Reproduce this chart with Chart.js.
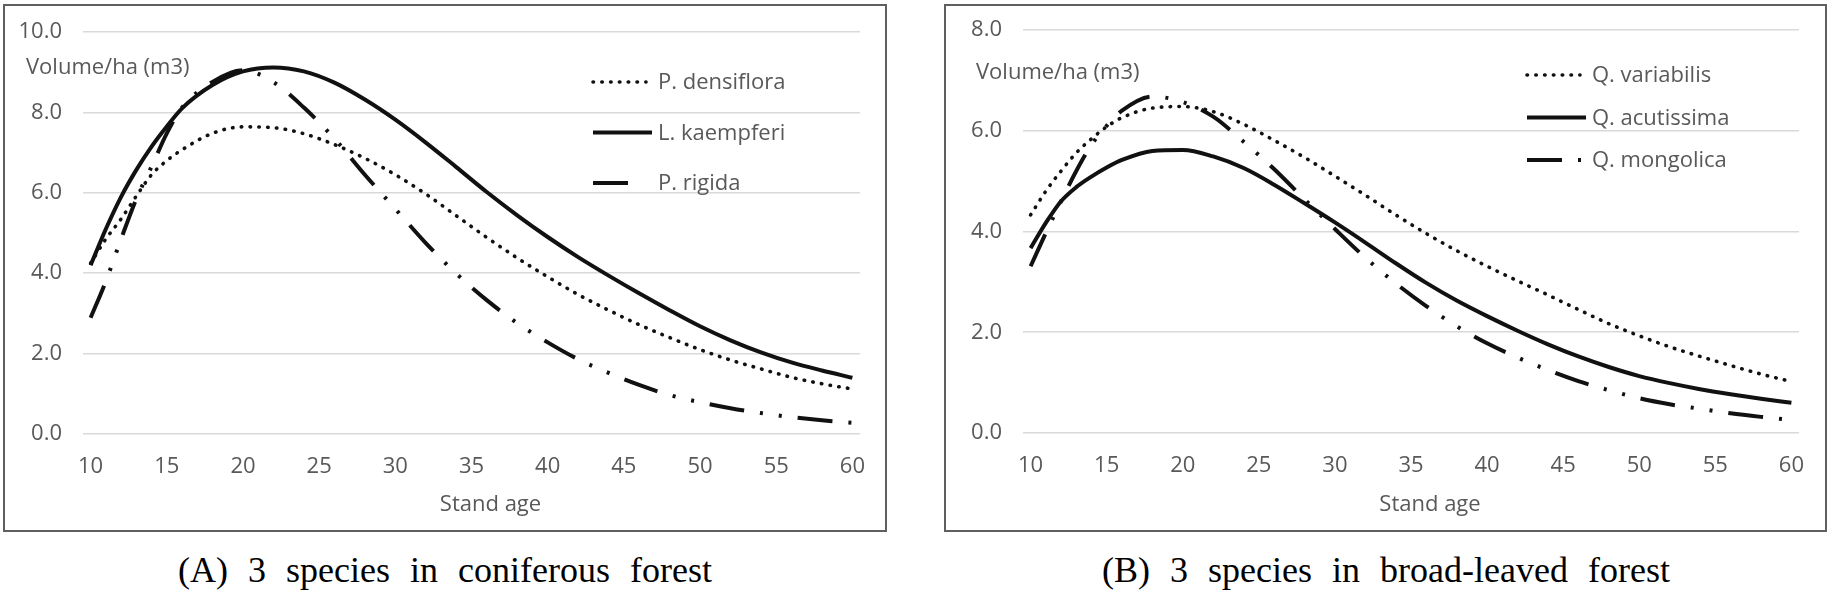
<!DOCTYPE html>
<html>
<head>
<meta charset="utf-8">
<title>Volume/ha by stand age</title>
<script src="https://cdn.jsdelivr.net/npm/chart.js@4.4.1/dist/chart.umd.min.js"></script>
<style>
  html, body { margin: 0; padding: 0; background: #fff; }
  body { width: 1832px; height: 593px; position: relative; overflow: hidden; }
  .panel { position: absolute; top: 4px; border: 2px solid #5f5f5f; background: #fff; }
  #panelA { left: 3px; width: 880px; height: 524px; }
  #panelB { left: 944px; width: 879px; height: 524px; }
  .panel canvas { display: block; }
  .caption {
    position: absolute; top: 552px; width: 700px;
    font-family: "Liberation Serif", "Times New Roman", serif;
    font-size: 36px; line-height: 36px; word-spacing: 11px;
    color: #000; white-space: nowrap; text-align: center;
  }
  #capA { left: 95px; }
  #capB { left: 1036px; }
</style>
</head>
<body>
<div class="panel" id="panelA"><canvas id="chartA" width="880" height="524"></canvas></div>
<div class="panel" id="panelB"><canvas id="chartB" width="879" height="524"></canvas></div>
<div class="caption" id="capA">(A) 3 species in coniferous forest</div>
<div class="caption" id="capB">(B) 3 species in broad-leaved forest</div>

<script>
const ages = [10, 11, 12, 13, 14, 15, 16, 18, 20, 22, 24, 26, 28, 30, 32, 34, 36, 38, 40, 42, 44, 46, 48, 50, 52, 54, 56, 58, 60];
const ageTicks = [10, 15, 20, 25, 30, 35, 40, 45, 50, 55, 60];

// (A) coniferous forest
const densiflora = [4.25, 4.85, 5.35, 5.92, 6.45, 6.8, 7.07, 7.48, 7.64, 7.62, 7.47, 7.2, 6.86, 6.45, 5.97, 5.43, 4.89, 4.38, 3.91, 3.47, 3.08, 2.72, 2.4, 2.1, 1.84, 1.62, 1.41, 1.25, 1.12];
const kaempferi = [4.2, 5.1, 5.9, 6.57, 7.15, 7.65, 8.1, 8.68, 9.02, 9.12, 9.02, 8.74, 8.32, 7.82, 7.25, 6.64, 6.02, 5.44, 4.9, 4.4, 3.94, 3.5, 3.08, 2.68, 2.33, 2.03, 1.78, 1.58, 1.4];
const rigida = [2.89, 3.8, 4.85, 5.85, 6.65, 7.48, 8.12, 8.76, 9.05, 8.75, 8.12, 7.35, 6.45, 5.6, 4.75, 3.99, 3.33, 2.76, 2.28, 1.86, 1.52, 1.22, 0.97, 0.79, 0.64, 0.52, 0.42, 0.34, 0.28];

// (B) broad-leaved forest
const variabilis = [4.33, 4.8, 5.2, 5.56, 5.84, 6.08, 6.26, 6.45, 6.48, 6.38, 6.13, 5.81, 5.47, 5.1, 4.72, 4.33, 3.96, 3.62, 3.31, 3.02, 2.74, 2.45, 2.17, 1.93, 1.71, 1.52, 1.34, 1.17, 1.02];
const acutissima = [3.67, 4.17, 4.6, 4.88, 5.09, 5.27, 5.42, 5.6, 5.62, 5.49, 5.26, 4.93, 4.56, 4.18, 3.78, 3.37, 2.98, 2.63, 2.32, 2.03, 1.76, 1.52, 1.31, 1.13, 0.99, 0.87, 0.77, 0.68, 0.6];
const mongolica = [3.31, 3.97, 4.6, 5.2, 5.72, 6.1, 6.4, 6.68, 6.57, 6.28, 5.78, 5.24, 4.64, 4.05, 3.48, 2.97, 2.52, 2.12, 1.78, 1.5, 1.25, 1.03, 0.85, 0.69, 0.57, 0.48, 0.39, 0.32, 0.26];

const namesA = ['P. densiflora', 'L. kaempferi', 'P. rigida'];
const namesB = ['Q. variabilis', 'Q. acutissima', 'Q. mongolica'];
const yTicksA = [0, 2, 4, 6, 8, 10];
const yTicksB = [0, 2, 4, 6, 8];

const TEXT = '#595959';
const FONT = '"Open Sans", "Noto Sans", sans-serif';

// excel-like line styles
const dotted = { borderDash: [0.5, 8.3], borderCapStyle: 'round', borderWidth: 3.6 };
const solid = { borderDash: [], borderCapStyle: 'butt', borderWidth: 4 };
const dashDotDot = { borderDash: [35, 16, 3, 16, 3, 16], borderCapStyle: 'butt', borderWidth: 4 };

// axis titles + legend drawn inside the plot like the excel original
const overlay = {
  id: 'overlay',
  afterDraw(chart, args, opts) {
    const { ctx, chartArea: a } = chart;
    ctx.save();
    ctx.fillStyle = TEXT;
    ctx.font = '22px ' + FONT;
    ctx.textBaseline = 'middle';
    ctx.textAlign = 'left';
    ctx.fillText(opts.yTitle, a.left + opts.yTitleAt[0], a.top + opts.yTitleAt[1]);
    ctx.textAlign = 'center';
    ctx.fillText(opts.xTitle, (a.left + a.right) / 2 + opts.xTitleAt[0], a.bottom + opts.xTitleAt[1]);

    ctx.textAlign = 'left';
    chart.data.datasets.forEach((ds, i) => {
      const x0 = a.left + opts.legendAt[0];
      const y = a.top + opts.legendAt[1] + i * opts.legendGap;
      ctx.save();
      ctx.strokeStyle = ds.borderColor;
      ctx.lineWidth = ds.borderWidth;
      ctx.lineCap = ds.borderCapStyle;
      ctx.setLineDash(ds.borderDash);
      ctx.beginPath();
      ctx.moveTo(x0, y);
      ctx.lineTo(x0 + opts.sampleLen[i], y);
      ctx.stroke();
      ctx.restore();
      ctx.fillText(ds.label, x0 + 65, y + 1);
    });
    ctx.restore();
  }
};

function makeChart(id, names, series, yTicks, box) {
  const styles = [dotted, solid, dashDotDot];
  const datasets = series.map((vals, i) => ({
    label: names[i],
    data: ages.map((a, j) => ({ x: a, y: vals[j] })),
    borderColor: '#111',
    backgroundColor: '#111',
    pointRadius: 0,
    fill: false,
    cubicInterpolationMode: 'monotone',
    ...styles[i]
  }));

  return new Chart(document.getElementById(id), {
    type: 'line',
    data: { datasets },
    plugins: [overlay],
    options: {
      responsive: false,
      animation: false,
      layout: { padding: { left: 0, top: box.top, right: box.right, bottom: 0 } },
      plugins: {
        legend: { display: false },
        tooltip: { enabled: false },
        overlay: box.overlay
      },
      scales: {
        x: {
          type: 'linear',
          min: 9.5,
          max: 60.5,
          afterBuildTicks: s => { s.ticks = ageTicks.map(v => ({ value: v })); },
          afterFit: s => { s.height = box.xHeight; s.paddingLeft = 0; s.paddingRight = 0; },
          grid: { display: false, drawTicks: false },
          border: { display: false },
          ticks: { color: TEXT, font: { family: FONT, size: 22 }, padding: 20, maxRotation: 0 }
        },
        y: {
          min: 0,
          max: yTicks[yTicks.length - 1],
          afterBuildTicks: s => { s.ticks = yTicks.map(v => ({ value: v })); },
          // fixed width, and no extra label padding so the plot top sits where the excel one does
          afterFit: s => { s.width = box.yWidth; s.paddingTop = 0; s.paddingBottom = 0; },
          grid: { color: '#d9d9d9', lineWidth: 1.6, drawTicks: false },
          border: { display: false },
          ticks: { color: TEXT, font: { family: FONT, size: 22 }, padding: 21, callback: v => v.toFixed(1) }
        }
      }
    }
  });
}

makeChart('chartA', namesA, [densiflora, kaempferi, rigida], yTicksA, {
  top: 26, right: 25, xHeight: 96, yWidth: 78,
  overlay: {
    yTitle: 'Volume/ha (m3)', yTitleAt: [-57, 36],
    xTitle: 'Stand age', xTitleAt: [19, 71],
    legendAt: [510, 50], legendGap: 50.5, sampleLen: [53, 59, 42]
  }
});

makeChart('chartB', namesB, [variabilis, acutissima, mongolica], yTicksB, {
  top: 24, right: 26, xHeight: 97, yWidth: 77,
  overlay: {
    yTitle: 'Volume/ha (m3)', yTitleAt: [-47, 43],
    xTitle: 'Stand age', xTitleAt: [19, 72],
    legendAt: [504, 45], legendGap: 42.5, sampleLen: [53, 59, 59]
  }
});
</script>
</body>
</html>
